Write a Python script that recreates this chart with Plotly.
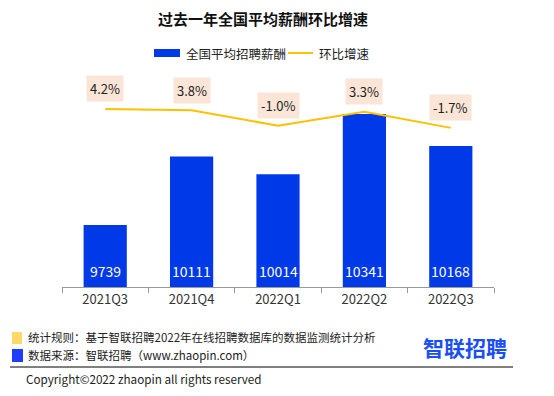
import plotly.graph_objects as go

categories = ["2021Q3", "2021Q4", "2022Q1", "2022Q2", "2022Q3"]
salary = [9739, 10111, 10014, 10341, 10168]
growth = [4.2, 3.8, -1.0, 3.3, -1.7]
growth_labels = ["4.2%", "3.8%", "-1.0%", "3.3%", "-1.7%"]

W, H = 554, 396
L, R, T, B = 62, 494, 60, 287  # plot area in pixels
Y1_RANGE = [9403, 10634]
Y2_RANGE = [-51.4, 19.5]

def xp(px):
    return (px - L) / (R - L)

def yp(py):
    return (B - py) / (B - T)

FONT = "Microsoft YaHei, Noto Sans CJK SC, sans-serif"
BAR = "#0039E8"
LINE = "#FFC000"

fig = go.Figure()
fig.add_trace(go.Bar(
    x=categories, y=salary, name="全国平均招聘薪酬",
    marker=dict(color=BAR, line=dict(width=0)), width=0.5,
    showlegend=False, hoverinfo="x+y",
))
fig.add_trace(go.Scatter(
    x=categories, y=growth, name="环比增速", yaxis="y2",
    mode="lines", line=dict(color=LINE, width=2),
    showlegend=False,
))

annotations = []
for c, g, lab in zip(categories, growth, growth_labels):
    annotations.append(dict(
        x=c, y=g, xref="x", yref="y2", text=lab, showarrow=False,
        yshift=20, bgcolor="#FBE5D6", borderpad=3,
        font=dict(size=13, color="#222", family=FONT),
    ))
for c, v in zip(categories, salary):
    annotations.append(dict(
        x=c, y=Y1_RANGE[0], xref="x", yref="y", text=str(v), showarrow=False,
        yshift=16, yanchor="middle",
        font=dict(size=14, color="white", family=FONT),
    ))

# legend (manual)
annotations += [
    dict(x=xp(184), y=yp(53), xref="paper", yref="paper", text="全国平均招聘薪酬",
         showarrow=False, xanchor="left", yanchor="middle",
         font=dict(size=12.5, color="#222", family=FONT)),
    dict(x=xp(317), y=yp(53), xref="paper", yref="paper", text="环比增速",
         showarrow=False, xanchor="left", yanchor="middle",
         font=dict(size=12.5, color="#222", family=FONT)),
    dict(x=xp(26), y=yp(337), xref="paper", yref="paper",
         text="统计规则：基于智联招聘2022年在线招聘数据库的数据监测统计分析",
         showarrow=False, xanchor="left", yanchor="middle",
         font=dict(size=11.5, color="#222", family=FONT)),
    dict(x=xp(26), y=yp(355), xref="paper", yref="paper",
         text="数据来源：智联招聘（www.zhaopin.com）",
         showarrow=False, xanchor="left", yanchor="middle",
         font=dict(size=11.5, color="#222", family=FONT)),
    dict(x=xp(465), y=yp(347), xref="paper", yref="paper", text="<b>智联招聘</b>",
         showarrow=False, xanchor="center", yanchor="middle",
         font=dict(size=21, color="#1A4FF5", family=FONT)),
    dict(x=xp(24), y=yp(378), xref="paper", yref="paper",
         text="Copyright©2022 zhaopin all rights reserved",
         showarrow=False, xanchor="left", yanchor="middle",
         font=dict(size=11.7, color="#222", family=FONT)),
]

shapes = [
    dict(type="rect", xref="paper", yref="paper", x0=xp(154), x1=xp(180),
         y0=yp(49), y1=yp(57), fillcolor=BAR, line=dict(width=0)),
    dict(type="line", xref="paper", yref="paper", x0=xp(288), x1=xp(313),
         y0=yp(53), y1=yp(53), line=dict(color=LINE, width=2)),
    dict(type="rect", xref="paper", yref="paper", x0=xp(12), x1=xp(22),
         y0=yp(332), y1=yp(344), fillcolor="#FFD966", line=dict(width=0)),
    dict(type="rect", xref="paper", yref="paper", x0=xp(12), x1=xp(23),
         y0=yp(349), y1=yp(362), fillcolor="#1F3CFF", line=dict(width=0)),
    dict(type="line", xref="paper", yref="paper", x0=xp(10), x1=xp(513),
         y0=yp(367), y1=yp(367), line=dict(color="#000", width=1)),
]

fig.update_layout(
    width=W, height=H,
    margin=dict(l=L, r=W - R, t=T, b=H - B, pad=0),
    paper_bgcolor="white", plot_bgcolor="white",
    font=dict(family=FONT),
    title=dict(text="<b>过去一年全国平均薪酬环比增速</b>", x=263 / W, xanchor="center",
               y=1 - 20 / H, yanchor="middle", font=dict(size=15, color="#111", family=FONT)),
    xaxis=dict(showline=True, linecolor="#999", linewidth=1, ticks="outside",
               ticklen=5, tickcolor="#999", tickson="boundaries",
               tickfont=dict(size=13, color="#333", family=FONT), showgrid=False),
    yaxis=dict(range=Y1_RANGE, visible=False, showgrid=False),
    yaxis2=dict(range=Y2_RANGE, overlaying="y", visible=False, showgrid=False),
    annotations=annotations, shapes=shapes, showlegend=False,
)

fig.write_html("out.html", config={"displayModeBar": False},
               post_script="document.body.style.margin='0';")
